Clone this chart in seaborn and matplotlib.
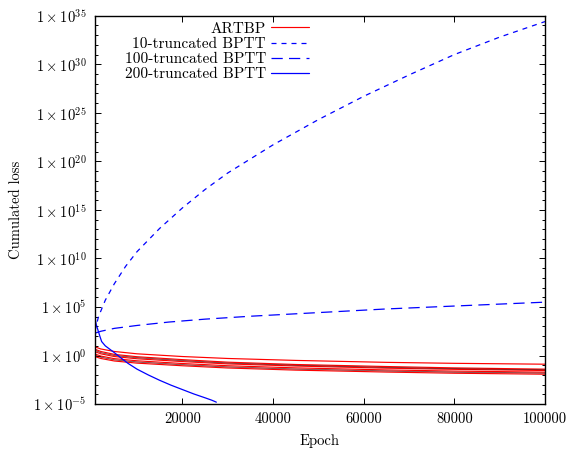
import numpy as np
import pandas as pd
import matplotlib
matplotlib.use("Agg")
import matplotlib.pyplot as plt
import matplotlib.ticker as mticker
import seaborn as sns

# values (log10 of cumulated loss)
artbp_epochs = [700, 2000, 5000, 10000, 20000, 30000, 45000, 65000, 80000, 100000]
artbp_runs = [
    [0.90, 0.68, 0.42, 0.18, -0.10, -0.30, -0.50, -0.70, -0.80, -0.89],
    [0.66, 0.42, 0.12, -0.12, -0.42, -0.68, -0.92, -1.13, -1.27, -1.40],
    [0.41, 0.18, -0.10, -0.33, -0.62, -0.86, -1.08, -1.30, -1.42, -1.54],
    [0.17, -0.05, -0.32, -0.54, -0.82, -1.05, -1.27, -1.48, -1.60, -1.71],
    [-0.10, -0.30, -0.56, -0.78, -1.05, -1.28, -1.50, -1.70, -1.82, -1.92],
]
artbp_dark = [
    [0.55, 0.30, 0.01, -0.22, -0.52, -0.77, -1.00, -1.22, -1.35, -1.47],
    [0.05, -0.17, -0.44, -0.66, -0.94, -1.17, -1.39, -1.59, -1.71, -1.81],
]

bptt10_epochs = [700, 1500, 3000, 5000, 7500, 10000, 15000, 20000, 25000, 30000,
                 40000, 50000, 60000, 70000, 80000, 90000, 100000]
bptt10_log = [2.5, 4.0, 5.7, 7.4, 9.2, 10.7, 13.1, 15.2, 17.1, 18.8,
              21.7, 24.3, 26.7, 28.9, 31.0, 32.8, 34.4]

bptt100_epochs = [700, 2000, 5000, 10000, 17000, 25000, 35000, 45000, 55000,
                  65000, 75000, 85000, 100000]
bptt100_log = [2.3, 2.5, 2.8, 3.1, 3.45, 3.75, 4.05, 4.3, 4.55, 4.8, 5.0, 5.2, 5.5]

bptt200_epochs = [700, 1000, 1400, 1800, 2200, 3000, 4000, 5000, 6200, 8000, 10000,
                  12500, 15000, 17500, 20000, 22500, 25000, 26500, 27500]
bptt200_log = [3.9, 3.2, 2.6, 2.0, 1.44, 1.0, 0.65, 0.3, -0.15, -0.8, -1.4,
               -2.0, -2.55, -3.05, -3.5, -3.95, -4.35, -4.6, -4.8]

sns.set_style("ticks")
plt.rcParams['font.family'] = 'cmr10'
plt.rcParams['mathtext.fontset'] = 'cm'
plt.rcParams['axes.formatter.use_mathtext'] = True
plt.rcParams['font.size'] = 10.5
plt.rcParams['text.color'] = 'black'
plt.rcParams['axes.labelcolor'] = 'black'
plt.rcParams['xtick.color'] = 'black'
plt.rcParams['ytick.color'] = 'black'
plt.rcParams['axes.edgecolor'] = 'black'

fig = plt.figure(figsize=(5.68, 4.5), dpi=100)
ax = fig.add_axes([0.167, 0.102, 0.7925, 0.863])

red = '#ff0000'
blue = '#0000ff'

for i, run in enumerate(artbp_runs):
    d = pd.DataFrame({'Epoch': artbp_epochs, 'loss': 10.0 ** np.array(run)})
    sns.lineplot(data=d, x='Epoch', y='loss', ax=ax, color=red, lw=0.85,
                 label='ARTBP' if i == 0 else None)
for run in artbp_dark:
    d = pd.DataFrame({'Epoch': artbp_epochs, 'loss': 10.0 ** np.array(run)})
    sns.lineplot(data=d, x='Epoch', y='loss', ax=ax, color='#500000', lw=0.45)

d10 = pd.DataFrame({'Epoch': bptt10_epochs, 'loss': 10.0 ** np.array(bptt10_log)})
sns.lineplot(data=d10, x='Epoch', y='loss', ax=ax, color=blue, lw=0.9,
             linestyle=(0, (4, 4)), label='10-truncated BPTT')
d100 = pd.DataFrame({'Epoch': bptt100_epochs, 'loss': 10.0 ** np.array(bptt100_log)})
sns.lineplot(data=d100, x='Epoch', y='loss', ax=ax, color=blue, lw=0.9,
             linestyle=(0, (9, 5)), label='100-truncated BPTT')
d200 = pd.DataFrame({'Epoch': bptt200_epochs, 'loss': 10.0 ** np.array(bptt200_log)})
sns.lineplot(data=d200, x='Epoch', y='loss', ax=ax, color=blue, lw=0.9,
             label='200-truncated BPTT')

ax.set_yscale('log')
ax.set_xlim(700, 100000)
ax.set_ylim(1e-5, 1e35)
ax.yaxis.set_major_locator(mticker.FixedLocator(10.0 ** np.arange(-5, 36, 5)))
ax.yaxis.set_minor_locator(mticker.FixedLocator(10.0 ** np.arange(-5, 36, 1)))
ax.yaxis.set_major_formatter(mticker.FuncFormatter(
    lambda v, p: r'$1\times10^{%d}$' % round(np.log10(v))))
ax.yaxis.set_minor_formatter(mticker.NullFormatter())
ax.xaxis.set_major_locator(mticker.FixedLocator([20000, 40000, 60000, 80000, 100000]))
ax.xaxis.set_major_formatter(mticker.FuncFormatter(lambda v, p: '%d' % v))

ax.tick_params(which='both', direction='in', top=True, right=True, width=0.7)
ax.tick_params(which='major', length=4, pad=6)
ax.tick_params(which='minor', length=2.5)
ax.tick_params(axis='x', which='minor', bottom=False, top=False)
for s in ax.spines.values():
    s.set_linewidth(1.0)

ax.set_xlabel('Epoch', labelpad=6)
ax.set_ylabel('Cumulated loss', labelpad=7)

ax.legend(loc='upper right', bbox_to_anchor=((312 - 95) / 450, 0.992),
          frameon=False, markerfirst=False, handlelength=2.5,
          handletextpad=0.3, labelspacing=0.1, borderpad=0.2,
          borderaxespad=0.0, fontsize=11)

fig.savefig('out.png', dpi=100)
